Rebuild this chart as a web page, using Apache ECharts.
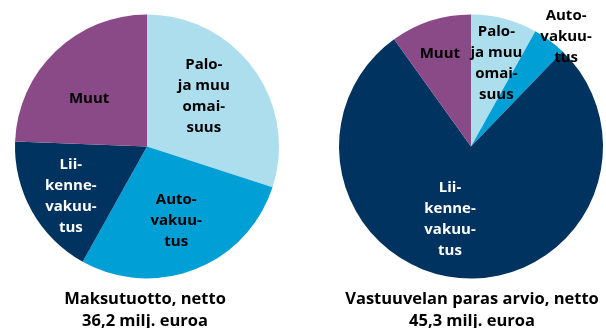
<!DOCTYPE html>
<html>
<head>
<meta charset="utf-8">
<script src="https://cdn.jsdelivr.net/npm/echarts@6/dist/echarts.min.js"></script>
<style>
  html, body { margin: 0; padding: 0; background: #ffffff; }
  #chart { width: 606px; height: 328px; }
</style>
</head>
<body>
<div id="chart"></div>
<script>
// Segment names and their hyphenated, line-broken slice labels
const categories = ['Palo- ja muu omaisuus', 'Autovakuutus', 'Liikennevakuutus', 'Muut'];
const sliceLabels = ['Palo-\nja muu\nomai-\nsuus', 'Auto-\nvakuu-\ntus', 'Lii-\nkenne-\nvakuu-\ntus', 'Muut'];

// Shares of the total, %
const premiumShares = [30.0, 28.1, 17.5, 24.4];   // Maksutuotto, netto
const reserveShares = [8.1, 4.1, 77.9, 9.9];      // Vastuuvelan paras arvio, netto

const pieTitles = [
  'Maksutuotto, netto\n36,2 milj. euroa',
  'Vastuuvelan paras arvio, netto\n45,3 milj. euroa'
];

// Styling
const sliceColors = ['#addeed', '#00a0d6', '#00335f', '#8a4a87'];
const labelColors = ['#000000', '#000000', '#ffffff', '#000000'];
const FONT = '"Open Sans", "Noto Sans", "DejaVu Sans", sans-serif';

// Nudges of the slice labels away from the default mid-radius spot
const labelNudge = [
  [[1, -10], [4, 10], [-16, 16], [-10, 2]],
  [[8, -16], [54, -54], [-16, 4], [-10, -27]]
];

function pieSeries(values, centerX, idx) {
  return {
    type: 'pie',
    center: [centerX, 146.5],
    radius: 132,
    startAngle: 90,
    clockwise: true,
    silent: true,
    animation: false,
    itemStyle: { borderWidth: 0 },
    label: {
      show: true,
      position: 'inside',
      fontFamily: FONT,
      fontWeight: 'bold',
      fontSize: 15,
      lineHeight: 21,
      align: 'center',
      formatter: p => sliceLabels[p.dataIndex]
    },
    labelLine: { show: false },
    labelLayout: p => ({ dx: labelNudge[idx][p.dataIndex][0], dy: labelNudge[idx][p.dataIndex][1] }),
    data: values.map((v, i) => ({
      name: categories[i],
      value: v,
      itemStyle: { color: sliceColors[i] },
      label: { color: labelColors[i] }
    }))
  };
}

const titleStyle = { fontFamily: FONT, fontWeight: 'bold', fontSize: 16.5, lineHeight: 22, color: '#000' };

const chart = echarts.init(document.getElementById('chart'), null, { renderer: 'canvas' });
chart.setOption({
  backgroundColor: '#ffffff',
  animation: false,
  title: [
    { text: pieTitles[0], left: 145, top: 288, textAlign: 'center', padding: 0, textStyle: titleStyle },
    { text: pieTitles[1], left: 472, top: 288, textAlign: 'center', padding: 0, textStyle: titleStyle }
  ],
  series: [
    pieSeries(premiumShares, 147, 0),
    pieSeries(reserveShares, 471, 1)
  ]
});
</script>
</body>
</html>
